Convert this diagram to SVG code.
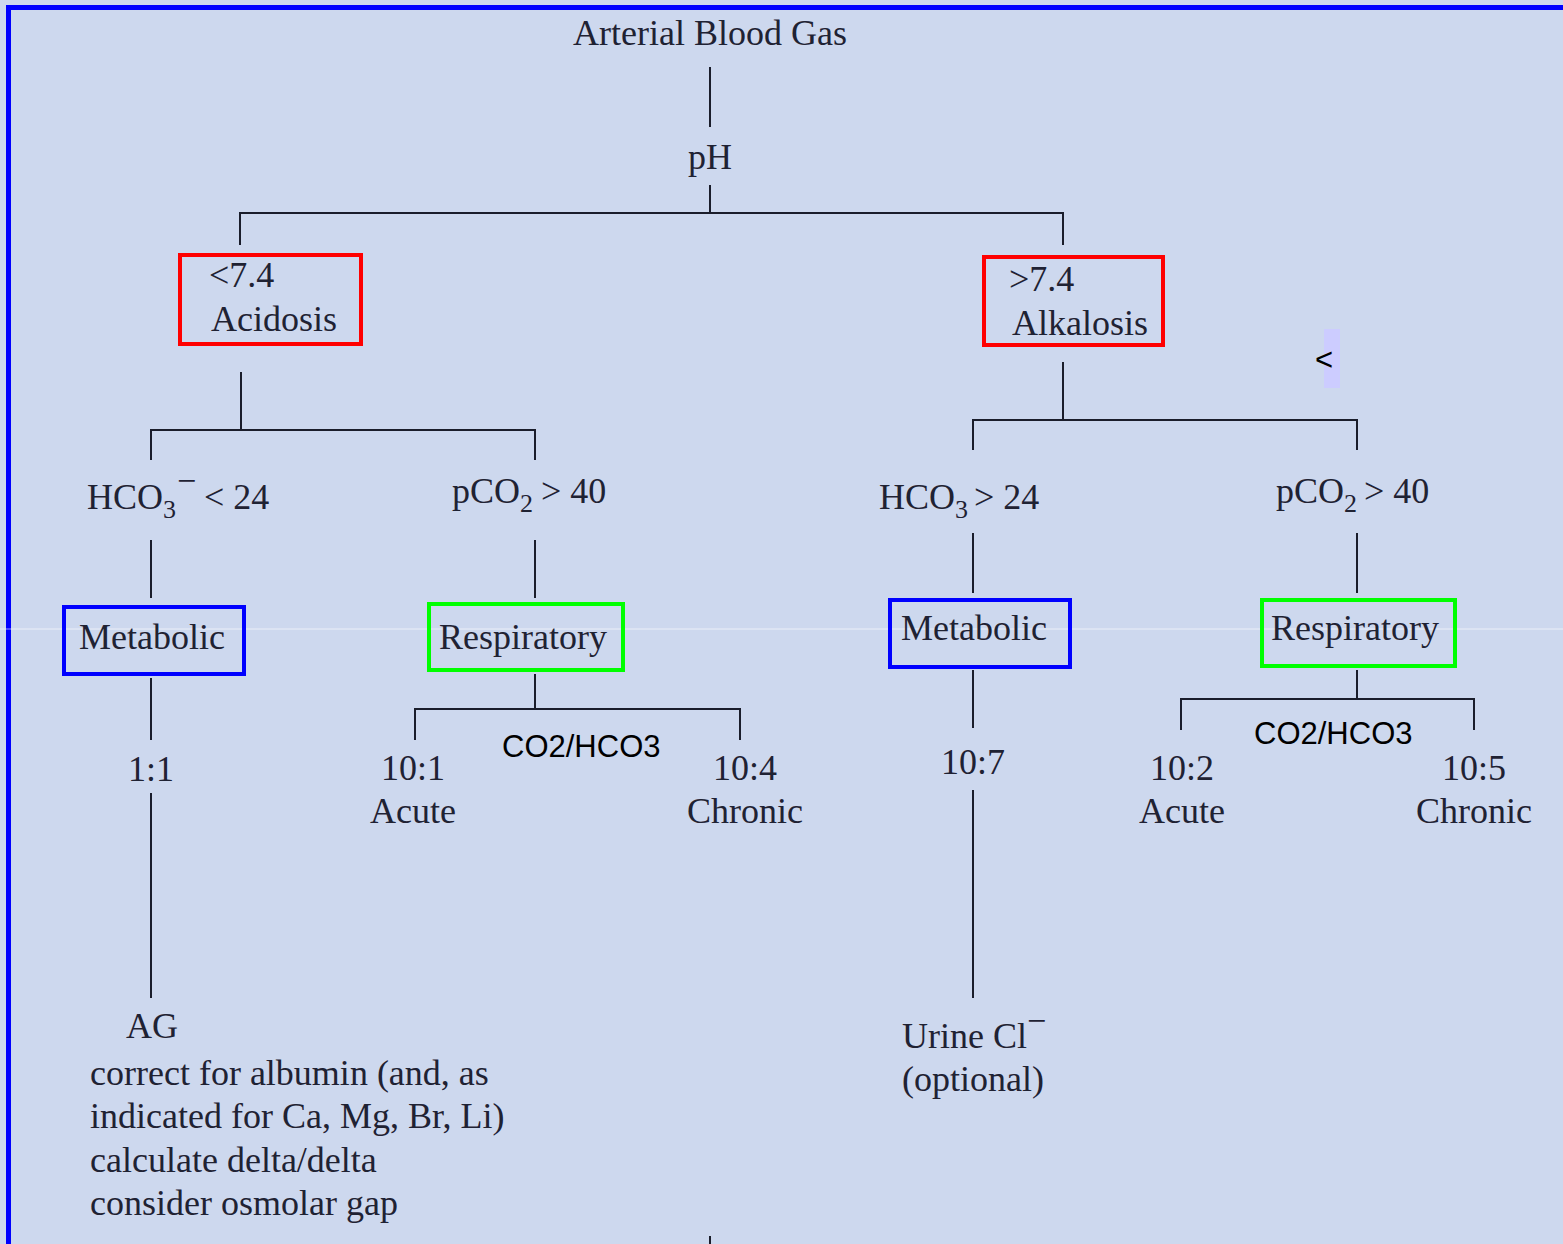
<svg xmlns="http://www.w3.org/2000/svg" width="1563" height="1244" viewBox="0 0 1563 1244">
<style>
.t{font-family:"Liberation Serif","Times New Roman",serif;font-size:36px;fill:#1f2233}
.s{font-family:"Liberation Sans",Arial,sans-serif;font-size:31px;fill:#000}
.sub{font-size:26px}
.sup{font-size:34px}
.c line{stroke:#1a1d2b;stroke-width:2}
.box{fill:none;stroke-width:4}
</style>
<rect x="0" y="0" width="1563" height="1244" fill="#cdd8ee"/>
<rect x="8.5" y="7.5" width="1600" height="1300" fill="none" stroke="#0000ff" stroke-width="5"/>
<line x1="0" y1="629" x2="1563" y2="629" stroke="#ffffff" stroke-opacity="0.6" stroke-width="1"/>

<g class="c" id="connectors">
<line x1="710" y1="67" x2="710" y2="127"/>
<line x1="710" y1="185" x2="710" y2="213"/>
<line x1="240" y1="213" x2="1063" y2="213"/>
<line x1="240" y1="212" x2="240" y2="245"/>
<line x1="1063" y1="212" x2="1063" y2="245"/>
<line x1="241" y1="372" x2="241" y2="430"/>
<line x1="151" y1="430" x2="535" y2="430"/>
<line x1="151" y1="429" x2="151" y2="460"/>
<line x1="535" y1="429" x2="535" y2="460"/>
<line x1="151" y1="540" x2="151" y2="598"/>
<line x1="535" y1="540" x2="535" y2="598"/>
<line x1="151" y1="678" x2="151" y2="740"/>
<line x1="151" y1="793" x2="151" y2="998"/>
<line x1="535" y1="674" x2="535" y2="709"/>
<line x1="415" y1="709" x2="740" y2="709"/>
<line x1="415" y1="708" x2="415" y2="740"/>
<line x1="740" y1="708" x2="740" y2="740"/>
<line x1="1063" y1="362" x2="1063" y2="420"/>
<line x1="973" y1="420" x2="1357" y2="420"/>
<line x1="973" y1="419" x2="973" y2="450"/>
<line x1="1357" y1="419" x2="1357" y2="450"/>
<line x1="973" y1="533" x2="973" y2="593"/>
<line x1="1357" y1="533" x2="1357" y2="593"/>
<line x1="973" y1="670" x2="973" y2="728"/>
<line x1="973" y1="790" x2="973" y2="998"/>
<line x1="1357" y1="670" x2="1357" y2="699"/>
<line x1="1181" y1="699" x2="1474" y2="699"/>
<line x1="1181" y1="698" x2="1181" y2="730"/>
<line x1="1474" y1="698" x2="1474" y2="730"/>
<line x1="710" y1="1236" x2="710" y2="1244"/>
</g>

<g id="abg"><text class="t" x="710" y="45" text-anchor="middle">Arterial Blood Gas</text></g>
<g id="ph"><text class="t" x="710" y="169" text-anchor="middle">pH</text></g>

<g id="acidosis">
<rect class="box" x="180" y="255" width="181" height="89" stroke="#ff0000"/>
<text class="t" x="209" y="287">&lt;7.4</text>
<text class="t" x="211" y="331">Acidosis</text>
</g>
<g id="alkalosis">
<rect class="box" x="984" y="257" width="179" height="88" stroke="#ff0000"/>
<text class="t" x="1009" y="291">&gt;7.4</text>
<text class="t" x="1012" y="335">Alkalosis</text>
</g>

<g id="hco3-low"><text class="t" x="87" y="509">HCO<tspan class="sub" y="518">3</tspan><tspan class="sup" dx="1" y="492">−</tspan><tspan x="204" y="509">&lt; 24</tspan></text></g>
<g id="pco2-high-l"><text class="t" x="452" y="503">pCO<tspan class="sub" y="512">2</tspan><tspan x="541" y="503">&gt; 40</tspan></text></g>
<g id="hco3-high"><text class="t" x="879" y="509">HCO<tspan class="sub" y="518">3</tspan><tspan x="974" y="509">&gt; 24</tspan></text></g>
<g id="pco2-high-r"><text class="t" x="1276" y="503">pCO<tspan class="sub" y="512">2</tspan><tspan x="1364" y="503">&gt; 40</tspan></text></g>

<g id="metabolic-l">
<rect class="box" x="64" y="607" width="180" height="67" stroke="#0000ff"/>
<text class="t" x="79" y="649">Metabolic</text>
</g>
<g id="respiratory-l">
<rect class="box" x="429" y="604" width="194" height="66" stroke="#00ff00"/>
<text class="t" x="439" y="649">Respiratory</text>
</g>
<g id="metabolic-r">
<rect class="box" x="890" y="600" width="180" height="67" stroke="#0000ff"/>
<text class="t" x="901" y="640">Metabolic</text>
</g>
<g id="respiratory-r">
<rect class="box" x="1262" y="600" width="193" height="66" stroke="#00ff00"/>
<text class="t" x="1271" y="640">Respiratory</text>
</g>

<g id="ratio-11"><text class="t" x="151" y="781" text-anchor="middle">1:1</text></g>
<g id="ratio-l-label"><text class="s" x="502" y="757">CO2/HCO3</text></g>
<g id="acute-l"><text class="t" x="413" y="780" text-anchor="middle">10:1</text><text class="t" x="413" y="823" text-anchor="middle">Acute</text></g>
<g id="chronic-l"><text class="t" x="745" y="780" text-anchor="middle">10:4</text><text class="t" x="745" y="823" text-anchor="middle">Chronic</text></g>
<g id="ratio-107"><text class="t" x="973" y="774" text-anchor="middle">10:7</text></g>
<g id="ratio-r-label"><text class="s" x="1254" y="744">CO2/HCO3</text></g>
<g id="acute-r"><text class="t" x="1182" y="780" text-anchor="middle">10:2</text><text class="t" x="1182" y="823" text-anchor="middle">Acute</text></g>
<g id="chronic-r"><text class="t" x="1474" y="780" text-anchor="middle">10:5</text><text class="t" x="1474" y="823" text-anchor="middle">Chronic</text></g>

<g id="ag">
<text class="t" x="126" y="1038">AG</text>
<text class="t" x="90" y="1085">correct for albumin (and, as</text>
<text class="t" x="90" y="1128">indicated for Ca, Mg, Br, Li)</text>
<text class="t" x="90" y="1172">calculate delta/delta</text>
<text class="t" x="90" y="1215">consider osmolar gap</text>
</g>
<g id="urine">
<text class="t" x="902" y="1048">Urine Cl<tspan class="sup" y="1032">−</tspan></text>
<text class="t" x="902" y="1091">(optional)</text>
</g>

<g id="lt-mark">
<rect x="1324" y="329" width="16" height="59" fill="#ccccff"/>
<text class="s" x="1315" y="370">&lt;</text>
</g>
</svg>
